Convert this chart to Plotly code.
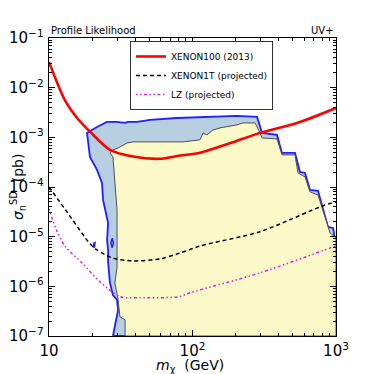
import plotly.graph_objects as go

# XENON100 (2013) limit
x100_m = [10, 12.9, 15.7, 19.3, 26.6, 38.5, 59, 82, 113, 180, 295, 535, 1000]
x100_s = [3.3e-2, 5.6e-3, 2.45e-3, 1.3e-3, 5.6e-4, 4.1e-4, 3.7e-4, 4.3e-4, 4.9e-4, 7.5e-4, 1.23e-3, 1.95e-3, 3.9e-3]

# XENON1T projected
x1t_m = [10, 13, 19.3, 21.6, 27.9, 38.5, 60, 82, 113, 295, 813, 1000]
x1t_s = [1.0e-4, 3.5e-5, 7.2e-6, 5.4e-6, 3.7e-6, 3.25e-6, 3.6e-6, 4.7e-6, 6.5e-6, 1.26e-5, 4.2e-5, 5.0e-5]

# LZ projected
lz_m = [10, 11.4, 13, 17, 22.7, 31.3, 43, 81, 96, 295, 908, 1000]
lz_s = [3.6e-5, 1.26e-5, 6.3e-6, 2.95e-6, 1.23e-6, 6.2e-7, 5.9e-7, 6.2e-7, 7.4e-7, 1.86e-6, 5.9e-6, 6.5e-6]

# outer (95%) region
out_m = [27.9, 30.3, 29.8, 27.9, 26.6, 25.8, 25.8, 25.4, 25.8, 23.8, 23.4, 21.6, 19.3, 18.7,
         18.4, 19.9, 21.6, 25.4, 29.8, 33.9, 35.5, 41.0, 50.6, 78.0, 112.8, 204, 281.6, 295,
         305, 388, 407, 420, 518, 561, 608, 659, 749, 880, 953, 969, 969, 969, 953, 908, 27.9]
out_s = [1e-7, 3.36e-7, 5.35e-7, 6.7e-7, 1.17e-6, 3.11e-6, 5.4e-6, 8.6e-6, 1.9e-5, 5.5e-5,
         1.21e-4, 2.21e-4, 4.04e-4, 7.7e-4, 1.23e-3, 1.41e-3, 1.62e-3, 2.04e-3, 2.04e-3,
         1.95e-3, 2.04e-3, 2.04e-3, 2.24e-3, 2.45e-3, 2.57e-3, 2.70e-3, 2.57e-3, 1.62e-3,
         1.23e-3, 1.12e-3, 6.4e-4, 4.85e-4, 4.85e-4, 2.01e-4, 1.92e-4, 8.7e-5, 8.4e-5,
         1.57e-5, 1.5e-5, 1.19e-5, 8.6e-6, 8.5e-7, 2.12e-7, 1e-7, 1e-7]

# inner (68%) region
in_m = [33.9, 33.9, 31.2, 30.3, 28.8, 29.8, 29.8, 29.8, 28.8, 27.9, 26.6, 27.9, 30.3, 35.0,
        38.5, 50.6, 85.8, 112.8, 118.4, 126.2, 139, 155.5, 204, 225, 273, 295, 305, 388,
        407, 420, 518, 543, 608, 659, 749, 866, 908, 984, 1000, 1000, 33.9]
in_s = [1e-7, 2.12e-7, 2.43e-7, 5.35e-7, 1.17e-6, 2.47e-6, 5.4e-6, 3.46e-5, 1.21e-4,
        4.04e-4, 4.85e-4, 5.6e-4, 6.1e-4, 7.7e-4, 8.1e-4, 8.1e-4, 8.1e-4, 8.9e-4, 1.23e-3,
        1.12e-3, 1.41e-3, 1.55e-3, 1.78e-3, 1.95e-3, 1.95e-3, 1.23e-3, 9.7e-4, 9.3e-4,
        5.6e-4, 4.43e-4, 4.43e-4, 1.92e-4, 1.6e-4, 8.0e-5, 6.9e-5, 1.9e-5, 1.19e-5, 9.9e-6,
        9e-6, 1e-7, 1e-7]

# small islands of the outer region
isl1_m = [20.4, 20.8, 20.9, 20.5, 20.4]
isl1_s = [6.0e-6, 6.3e-6, 7.6e-6, 7.4e-6, 6.0e-6]
isl2_m = [27.0, 27.6, 28.1, 27.6, 27.0]
isl2_s = [7.5e-6, 6.0e-6, 7.5e-6, 9.3e-6, 7.5e-6]

fig = go.Figure()

fig.add_trace(go.Scatter(x=out_m, y=out_s, mode="lines", fill="toself",
                         fillcolor="#b7cfe1", line=dict(color="#1f1fff", width=1.8),
                         showlegend=False, hoverinfo="skip"))
fig.add_trace(go.Scatter(x=in_m, y=in_s, mode="lines", fill="toself",
                         fillcolor="#fbf9c8", line=dict(color="#505050", width=1),
                         showlegend=False, hoverinfo="skip"))
for im, isg in [(isl1_m, isl1_s), (isl2_m, isl2_s)]:
    fig.add_trace(go.Scatter(x=im, y=isg, mode="lines", fill="toself",
                             fillcolor="#b7cfe1", line=dict(color="#1f1fff", width=1.5),
                             showlegend=False, hoverinfo="skip"))

fig.add_trace(go.Scatter(x=x100_m, y=x100_s, mode="lines", name="XENON100 (2013)",
                         line=dict(color="#ff0000", width=2.6, shape="spline", smoothing=0.8)))
fig.add_trace(go.Scatter(x=x1t_m, y=x1t_s, mode="lines", name="XENON1T (projected)",
                         line=dict(color="black", width=1.5, dash="4px,3px", shape="spline", smoothing=0.8)))
fig.add_trace(go.Scatter(x=lz_m, y=lz_s, mode="lines", name="LZ (projected)",
                         line=dict(color="#e020e0", width=1.5, dash="1.5px,2.5px,1.5px,2.5px,3px,2.5px",
                                   shape="spline", smoothing=0.8)))

axis_common = dict(type="log", showgrid=False, zeroline=False, showline=True,
                   linecolor="black", linewidth=1, mirror="allticks", ticks="inside",
                   ticklen=6, tickcolor="black", dtick=1, exponentformat="power",
                   automargin=False, ticklabelstandoff=2,
                   tickfont=dict(family="DejaVu Sans", size=12, color="black"),
                   minor=dict(ticks="inside", ticklen=3, tickcolor="black", showgrid=False))

fig.update_layout(
    width=366, height=366,
    margin=dict(l=41, r=38, t=30, b=38),
    paper_bgcolor="white", plot_bgcolor="white",
    font=dict(family="DejaVu Sans", color="black"),
    xaxis=dict(axis_common, range=[1, 3]),
    yaxis=dict(axis_common, range=[-7, -1]),
    legend=dict(x=0.282, y=0.99, xanchor="left", yanchor="top",
                bgcolor="white", bordercolor="#333333", borderwidth=1,
                font=dict(size=9), tracegroupgap=0, itemwidth=30),
    annotations=[
        dict(text="Profile Likelihood", x=0, y=1, xref="paper", yref="paper",
             xanchor="left", yanchor="bottom", showarrow=False, font=dict(size=10)),
        dict(text="UV+", x=1, y=1, xref="paper", yref="paper",
             xanchor="right", yanchor="bottom", showarrow=False, font=dict(size=10)),
        dict(text="<i>m</i><sub>χ</sub>  (GeV)", x=0.49, y=-0.1, xref="paper", yref="paper",
             xanchor="center", yanchor="middle", showarrow=False, font=dict(size=14)),
        dict(text="<i>σ</i><sub>n</sub><sup>SD</sup>  (pb)", x=-0.108, y=0.5, xref="paper",
             yref="paper", xanchor="center", yanchor="middle", textangle=-90,
             showarrow=False, font=dict(size=14)),
    ],
)

fig.write_html("out.html")
